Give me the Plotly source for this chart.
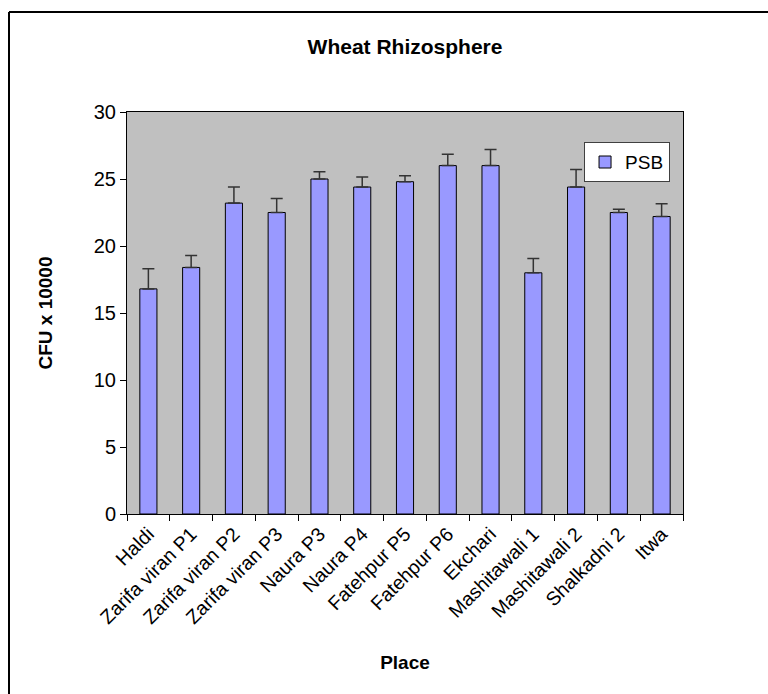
import plotly.graph_objects as go

# Colony counts of phosphate-solubilising bacteria per sampling site
places = [
    "Haldi", "Zarifa viran P1", "Zarifa viran P2", "Zarifa viran P3",
    "Naura P3", "Naura P4", "Fatehpur P5", "Fatehpur P6", "Ekchari",
    "Mashitawali 1", "Mashitawali 2", "Shalkadni 2", "Itwa",
]
psb = [16.8, 18.4, 23.2, 22.5, 25.0, 24.4, 24.8, 26.0, 26.0, 18.0, 24.4, 22.5, 22.2]
psb_err = [1.5, 0.9, 1.2, 1.05, 0.55, 0.75, 0.45, 0.85, 1.2, 1.07, 1.3, 0.25, 0.95]
y_ticks = [0, 5, 10, 15, 20, 25, 30]

W, H = 768, 694
ML, MR, MT, MB = 127, 85, 112, 180
FONT = "Liberation Sans, Arial, sans-serif"

fig = go.Figure()
fig.add_trace(go.Bar(
    x=places, y=psb, name="PSB",
    marker=dict(color="#9999FF", line=dict(color="#000000", width=1)),
    error_y=dict(type="data", array=psb_err, arrayminus=[0] * len(psb_err),
                 symmetric=False, color="#333333", thickness=1.5, width=6),
))

# outer chart frame (top and left edges)
pw, ph = W - ML - MR, H - MT - MB
def px_to_paper(xp, yp):
    return (xp - ML) / pw, (H - MB - yp) / ph
x0, y0 = px_to_paper(9, 12)
x1, _ = px_to_paper(W + 5, 12)
_, y1 = px_to_paper(9, H + 5)

fig.update_layout(
    width=W, height=H,
    margin=dict(l=ML, r=MR, t=MT, b=MB),
    paper_bgcolor="white", plot_bgcolor="#C0C0C0",
    font=dict(family=FONT, color="black", size=19),
    bargap=0.6,
    title=dict(text="<b>Wheat Rhizosphere</b>", x=(ML + pw / 2) / W, xanchor="center",
               y=1 - 47 / H, yanchor="middle", yref="container",
               font=dict(size=21, family=FONT)),
    showlegend=True,
    legend=dict(x=0.822, y=0.925, xanchor="left", yanchor="top",
                bgcolor="white", bordercolor="#404040", borderwidth=1,
                font=dict(size=19), itemwidth=30),
    xaxis=dict(
        type="category", tickangle=-45, tickson="boundaries",
        ticks="outside", ticklen=6, tickcolor="black",
        showline=True, linecolor="black", linewidth=1, mirror=True,
        tickfont=dict(size=19.5),
        title=dict(text="<b>Place</b>", font=dict(size=19), standoff=28),
    ),
    yaxis=dict(
        range=[0, 30], tickvals=y_ticks, ticks="outside", ticklen=6, tickcolor="black",
        showline=True, linecolor="black", linewidth=1, mirror=True,
        showgrid=False, zeroline=False, tickfont=dict(size=20),
        title=dict(text="<b>CFU x 10000</b>", font=dict(size=19), standoff=36),
    ),
    shapes=[
        dict(type="line", xref="paper", yref="paper", x0=x0, y0=y0, x1=x1, y1=y0,
             line=dict(color="black", width=2)),
        dict(type="line", xref="paper", yref="paper", x0=x0, y0=y0, x1=x0, y1=y1,
             line=dict(color="black", width=2)),
    ],
)

fig.write_html("out.html")
